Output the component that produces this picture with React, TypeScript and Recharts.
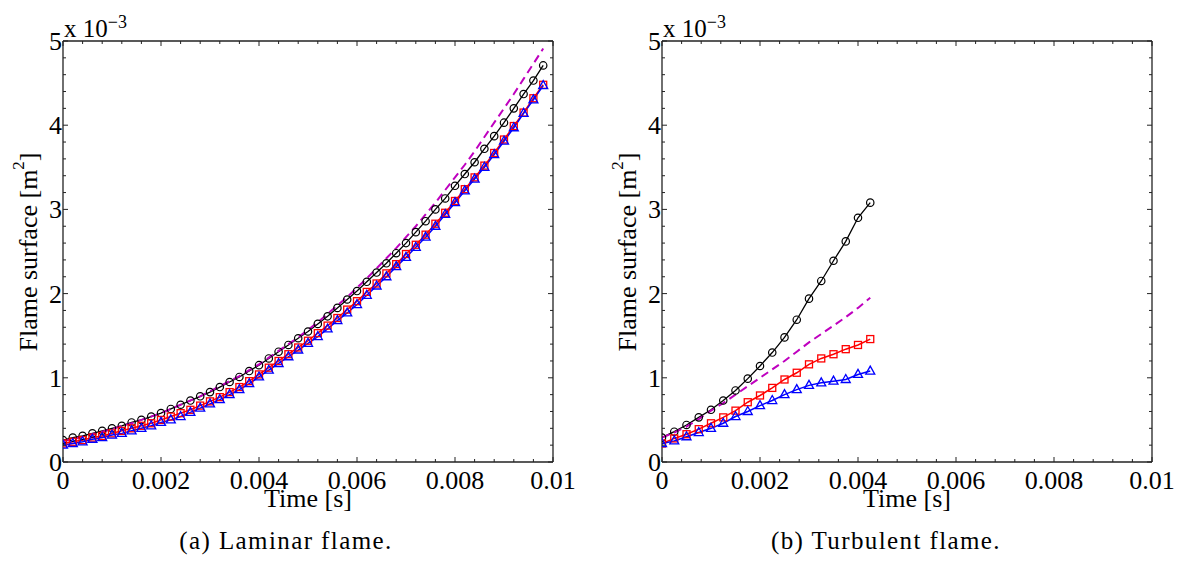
import { LineChart, Line, XAxis, YAxis, Label } from 'recharts';

// time axis (s) and flame surface (x 1e-3 m^2)
const lamTime = [
  0, 0.0002, 0.0004, 0.0006, 0.0008, 0.001, 0.0012, 0.0014, 0.0016, 0.0018,
  0.002, 0.0022, 0.0024, 0.0026, 0.0028, 0.003, 0.0032, 0.0034, 0.0036, 0.0038,
  0.004, 0.0042, 0.0044, 0.0046, 0.0048, 0.005, 0.0052, 0.0054, 0.0056, 0.0058,
  0.006, 0.0062, 0.0064, 0.0066, 0.0068, 0.007, 0.0072, 0.0074, 0.0076, 0.0078,
  0.008, 0.0082, 0.0084, 0.0086, 0.0088, 0.009, 0.0092, 0.0094, 0.0096, 0.0098,
];
const lamCircle = [
  0.26, 0.29, 0.31, 0.34, 0.37, 0.4, 0.43, 0.47, 0.5, 0.54,
  0.58, 0.63, 0.68, 0.73, 0.78, 0.83, 0.89, 0.95, 1.01, 1.08,
  1.15, 1.23, 1.31, 1.39, 1.47, 1.55, 1.64, 1.73, 1.83, 1.93,
  2.03, 2.14, 2.25, 2.36, 2.48, 2.6, 2.73, 2.86, 3.0, 3.13,
  3.28, 3.42, 3.56, 3.72, 3.87, 4.03, 4.2, 4.37, 4.53, 4.71,
];
const lamSquare = [
  0.22, 0.24, 0.26, 0.29, 0.31, 0.34, 0.37, 0.4, 0.43, 0.46,
  0.5, 0.54, 0.58, 0.62, 0.67, 0.72, 0.77, 0.83, 0.89, 0.96,
  1.04, 1.12, 1.2, 1.28, 1.36, 1.44, 1.53, 1.62, 1.71, 1.81,
  1.91, 2.02, 2.12, 2.24, 2.35, 2.47, 2.58, 2.7, 2.83, 2.96,
  3.1, 3.24, 3.38, 3.52, 3.67, 3.83, 3.99, 4.15, 4.32, 4.48,
];
const lamTriangle = [
  0.2, 0.22, 0.24, 0.27, 0.29, 0.32, 0.34, 0.37, 0.4, 0.43,
  0.47, 0.5, 0.54, 0.59, 0.64, 0.69, 0.74, 0.8, 0.86, 0.93,
  1.01, 1.09, 1.17, 1.25, 1.33, 1.41, 1.49, 1.58, 1.68, 1.77,
  1.87, 1.98, 2.09, 2.2, 2.32, 2.43, 2.55, 2.67, 2.8, 2.94,
  3.08, 3.22, 3.36, 3.5, 3.65, 3.81, 3.97, 4.14, 4.3, 4.47,
];
const lamDashed = [
  0.25, 0.27, 0.3, 0.33, 0.36, 0.39, 0.43, 0.46, 0.5, 0.54,
  0.58, 0.63, 0.68, 0.73, 0.78, 0.84, 0.9, 0.96, 1.02, 1.09,
  1.16, 1.24, 1.32, 1.4, 1.48, 1.57, 1.66, 1.76, 1.86, 1.96,
  2.07, 2.18, 2.3, 2.42, 2.54, 2.67, 2.8, 2.94, 3.08, 3.23,
  3.38, 3.53, 3.69, 3.86, 4.03, 4.2, 4.37, 4.55, 4.73, 4.91,
];

const turbTime = [
  0, 0.00025, 0.0005, 0.00075, 0.001, 0.00125, 0.0015, 0.00175, 0.002,
  0.00225, 0.0025, 0.00275, 0.003, 0.00325, 0.0035, 0.00375, 0.004, 0.00425,
];
const turbCircle = [0.29, 0.36, 0.44, 0.53, 0.62, 0.73, 0.85, 0.99, 1.14, 1.3, 1.48, 1.69, 1.94, 2.15, 2.39, 2.62, 2.9, 3.08];
const turbSquare = [0.22, 0.28, 0.33, 0.39, 0.46, 0.53, 0.61, 0.71, 0.79, 0.88, 0.98, 1.06, 1.16, 1.23, 1.28, 1.34, 1.39, 1.46];
const turbTriangle = [0.22, 0.25, 0.3, 0.35, 0.4, 0.46, 0.54, 0.6, 0.67, 0.73, 0.8, 0.86, 0.91, 0.94, 0.96, 0.98, 1.04, 1.08];
const turbDashed = [0.29, 0.35, 0.42, 0.51, 0.61, 0.7, 0.8, 0.9, 1.0, 1.1, 1.2, 1.31, 1.42, 1.52, 1.62, 1.72, 1.83, 1.95];

const xTicks = [
  0, 0.0004, 0.0008, 0.0012, 0.0016, 0.002, 0.0024, 0.0028, 0.0032, 0.0036,
  0.004, 0.0044, 0.0048, 0.0052, 0.0056, 0.006, 0.0064, 0.0068, 0.0072, 0.0076,
  0.008, 0.0084, 0.0088, 0.0092, 0.0096, 0.01,
];
const xMajor = [0, 0.002, 0.004, 0.006, 0.008, 0.01];
const yTicks = [
  0, 0.2, 0.4, 0.6, 0.8, 1, 1.2, 1.4, 1.6, 1.8, 2, 2.2, 2.4, 2.6, 2.8,
  3, 3.2, 3.4, 3.6, 3.8, 4, 4.2, 4.4, 4.6, 4.8, 5,
];
const yMajor = [0, 1, 2, 3, 4, 5];

const FONT = '"Liberation Serif", "Times New Roman", serif';
const AXIS = '#222';

const isIn = (list: number[], v: number) => list.some((m) => Math.abs(m - v) < 1e-9);

const BottomTick = (p: any) => {
  const major = isIn(xMajor, p.payload.value);
  return (
    <g>
      <line x1={p.x} x2={p.x} y1={p.y} y2={p.y - (major ? 5 : 3)} stroke={AXIS} strokeWidth={1} />
      {major && (
        <text x={p.x} y={p.y + 27} textAnchor="middle" fontSize={26} fontFamily={FONT} fill="#000">
          {String(p.payload.value)}
        </text>
      )}
    </g>
  );
};

const TopTick = (p: any) => {
  const major = isIn(xMajor, p.payload.value);
  return <line x1={p.x} x2={p.x} y1={p.y} y2={p.y + (major ? 5 : 3)} stroke={AXIS} strokeWidth={1} />;
};

const LeftTick = (p: any) => {
  const major = isIn(yMajor, p.payload.value);
  return (
    <g>
      <line x1={p.x} x2={p.x + (major ? 5 : 3)} y1={p.y} y2={p.y} stroke={AXIS} strokeWidth={1} />
      {major && (
        <text x={p.x - 1} y={p.y + 9} textAnchor="end" fontSize={26} fontFamily={FONT} fill="#000">
          {String(p.payload.value)}
        </text>
      )}
    </g>
  );
};

const RightTick = (p: any) => {
  const major = isIn(yMajor, p.payload.value);
  return <line x1={p.x} x2={p.x - (major ? 5 : 3)} y1={p.y} y2={p.y} stroke={AXIS} strokeWidth={1} />;
};

const SquareDot = (p: any) => (
  <rect key={p.key} x={p.cx - 3.5} y={p.cy - 3.5} width={7} height={7} fill="none" stroke="#ff0000" strokeWidth={1.3} />
);

const TriangleDot = (p: any) => (
  <polygon
    key={p.key}
    points={`${p.cx},${p.cy - 5} ${p.cx - 4.5},${p.cy + 3} ${p.cx + 4.5},${p.cy + 3}`}
    fill="none"
    stroke="#0000ff"
    strokeWidth={1.3}
  />
);

const YTitle = () => (
  <text
    x={28}
    y={252}
    transform="rotate(-90, 28, 252)"
    textAnchor="middle"
    dominantBaseline="central"
    fontSize={26}
    fontFamily={FONT}
    fill="#000"
  >
    Flame surface [m<tspan dy={-10} fontSize={17}>2</tspan>
    <tspan dy={10}>]</tspan>
  </text>
);

const Multiplier = () => (
  <text x={64} y={37} fontSize={25} fontFamily={FONT} fill="#000">
    x 10<tspan dy={-9} fontSize={18}>−3</tspan>
  </text>
);

const XTitle = () => (
  <text x={308} y={507} textAnchor="middle" fontSize={26} fontFamily={FONT} fill="#000">
    Time [s]
  </text>
);

function Panel({ time, circle, square, triangle, dashed }: any) {
  const data = time.map((t: number, i: number) => ({
    t,
    circle: circle[i],
    square: square[i],
    triangle: triangle[i],
    dashed: dashed[i],
  }));
  return (
    <LineChart width={585} height={565} data={data} margin={{ top: 40, right: 31, bottom: 73, left: 23 }}>
      <XAxis
        dataKey="t"
        type="number"
        domain={[0, 0.01]}
        allowDataOverflow
        ticks={xTicks}
        interval={0}
        tickSize={0}
        tickMargin={0}
        tickLine={false}
        tick={BottomTick}
        axisLine={{ stroke: AXIS, strokeWidth: 1.3 }}
        height={30}
      >
        <Label content={XTitle} />
      </XAxis>
      <XAxis
        xAxisId="top"
        orientation="top"
        dataKey="t"
        type="number"
        domain={[0, 0.01]}
        allowDataOverflow
        ticks={xTicks}
        interval={0}
        tickSize={0}
        tickMargin={0}
        tickLine={false}
        tick={TopTick}
        axisLine={{ stroke: AXIS, strokeWidth: 1.3 }}
        height={1}
      >
        <Label content={Multiplier} />
      </XAxis>
      <YAxis
        type="number"
        domain={[0, 5]}
        allowDataOverflow
        ticks={yTicks}
        interval={0}
        tickSize={0}
        tickMargin={0}
        tickLine={false}
        tick={LeftTick}
        axisLine={{ stroke: AXIS, strokeWidth: 1.3 }}
        width={40}
      >
        <Label content={YTitle} />
      </YAxis>
      <YAxis
        yAxisId="right"
        orientation="right"
        type="number"
        domain={[0, 5]}
        allowDataOverflow
        ticks={yTicks}
        interval={0}
        tickSize={0}
        tickMargin={0}
        tickLine={false}
        tick={RightTick}
        axisLine={{ stroke: AXIS, strokeWidth: 1.3 }}
        width={1}
      />
      <Line
        dataKey="circle"
        stroke="#000"
        strokeWidth={1.3}
        dot={{ r: 3.7, stroke: '#000', strokeWidth: 1.2, fill: 'none' }}
        isAnimationActive={false}
      />
      <Line dataKey="square" stroke="#ff0000" strokeWidth={1.5} dot={SquareDot} isAnimationActive={false} />
      <Line dataKey="triangle" stroke="#0000ff" strokeWidth={1.5} dot={TriangleDot} isAnimationActive={false} />
      <Line
        xAxisId="top"
        yAxisId="right"
        dataKey="dashed"
        stroke="#bf00bf"
        strokeWidth={2}
        strokeDasharray="8 5"
        dot={false}
        isAnimationActive={false}
      />
    </LineChart>
  );
}

const captionStyle = {
  position: 'absolute' as const,
  top: 526,
  textAlign: 'center' as const,
  fontFamily: FONT,
  fontSize: 25,
  letterSpacing: 1.4,
  lineHeight: '30px',
  color: '#000',
};

export default function App() {
  return (
    <div style={{ position: 'absolute', left: 0, top: 0, width: 1184, height: 565, background: '#fff', overflow: 'hidden' }}>
      <div style={{ position: 'absolute', left: 0, top: 0 }}>
        <Panel time={lamTime} circle={lamCircle} square={lamSquare} triangle={lamTriangle} dashed={lamDashed} />
      </div>
      <div style={{ position: 'absolute', left: 599, top: 0 }}>
        <Panel time={turbTime} circle={turbCircle} square={turbSquare} triangle={turbTriangle} dashed={turbDashed} />
      </div>
      <div style={{ ...captionStyle, left: 0, width: 572 }}>(a) Laminar flame.</div>
      <div style={{ ...captionStyle, left: 700, width: 372 }}>(b) Turbulent flame.</div>
    </div>
  );
}
